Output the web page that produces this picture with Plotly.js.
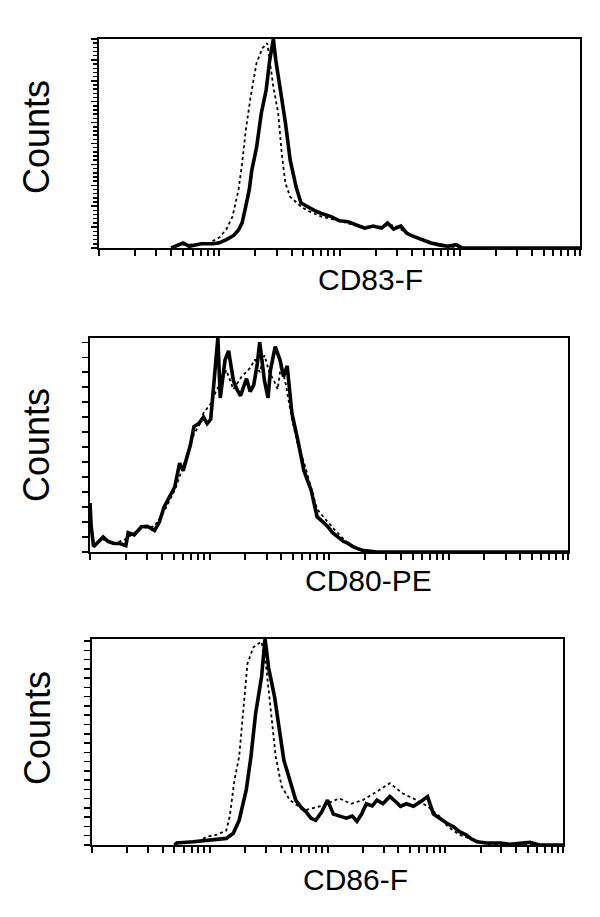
<!DOCTYPE html>
<html>
<head>
<meta charset="utf-8">
<script src="https://cdn.plot.ly/plotly-3.0.1.min.js"></script>
<style>html,body{margin:0;padding:0;background:#fff;}#chart{width:600px;height:917px;}</style>
</head>
<body>
<div id="chart"></div>
<script>
// ---- Data (log10 fluorescence position, counts as % of panel maximum) ----
const panelLabels = ["CD83-F", "CD80-PE", "CD86-F"];
const yLabel = "Counts";

// Panel 1: CD83-F
const cd83SolidLog = [0.60,0.70,0.75,0.85,0.95,1.00,1.06,1.12,1.16,1.19,1.22,1.25,1.27,1.31,1.35,1.39,1.42,1.45,1.47,1.51,1.55,1.59,1.64,1.68,1.73,1.79,1.85,1.93,2.00,2.07,2.14,2.21,2.28,2.35,2.40,2.45,2.51,2.56,2.62,2.69,2.76,2.83,2.90,2.97,3.02,3.20,4.00];
const cd83Solid    = [0,2.4,0.8,2,2,2.5,4,6,8.6,12,19.8,28,37,48,64.6,75.6,90,100,90,75.6,60,42,29,21.5,19.8,18,16.5,15,13,12.6,11,9.5,10.5,9.5,12,9,10.5,7,5.4,4,2.4,1.5,0.8,1.6,0,0,0];
const cd83DottedLog = [0.70,0.90,1.00,1.06,1.11,1.16,1.19,1.22,1.26,1.31,1.36,1.40,1.45,1.49,1.52,1.55,1.59,1.68,1.73,1.85,2.00,2.15,2.30,2.45,2.60,2.75,2.90,3.00];
const cd83Dotted    = [1.5,2,5,9,15,27.8,40.5,56,72,88.5,95.7,98,77,64.6,45,31,24.5,19.8,18,15,13,10.5,10,11,6,3,1,0];

// Panel 2: CD80-PE
const cd80SolidLog = [0.00,0.01,0.03,0.07,0.11,0.15,0.20,0.25,0.30,0.32,0.37,0.43,0.48,0.54,0.58,0.62,0.66,0.71,0.75,0.78,0.81,0.84,0.87,0.91,0.95,0.98,1.01,1.04,1.07,1.09,1.13,1.16,1.20,1.23,1.26,1.29,1.31,1.34,1.37,1.40,1.42,1.46,1.49,1.51,1.55,1.59,1.62,1.65,1.69,1.74,1.79,1.85,1.90,1.95,1.99,2.03,2.07,2.12,2.16,2.20,2.24,2.28,2.40,4.00];
const cd80Solid    = [22.9,12,2.5,5,7,5,4,4,3,9,8,11.8,12,10,14,21,25,30.5,41.5,38,44,50,58.6,60,63,60,62,80,100,72,89.7,94,80,76,73,78,81,75,78,88,98,80,72,85,96,89.7,82,87,64.8,52,38,29,16.5,14,11.8,9,7,5,4,2.5,1.6,0.8,0,0];
const cd80DottedLog = [0.00,0.03,0.10,0.20,0.30,0.37,0.43,0.54,0.62,0.71,0.78,0.83,0.87,0.92,0.95,1.02,1.06,1.09,1.14,1.20,1.27,1.34,1.38,1.42,1.46,1.50,1.54,1.57,1.60,1.64,1.69,1.74,1.79,1.85,1.90,1.99,2.07,2.16,2.24,2.30,4.00];
const cd80Dotted    = [15,3,6,4,6,9,11,12,19,29,40,48,55,60,65,70,76,78,85,76,82,86,90,84,92,84,80,76,88,78,62,50,42,30,20,14,9,4,1.5,0,0];

// Panel 3: CD86-F
const cd86SolidLog = [0.70,0.72,0.86,0.95,1.03,1.14,1.20,1.25,1.31,1.35,1.39,1.44,1.47,1.50,1.55,1.59,1.63,1.68,1.73,1.78,1.82,1.86,1.90,1.95,2.00,2.05,2.10,2.16,2.21,2.25,2.29,2.33,2.38,2.42,2.47,2.53,2.58,2.62,2.67,2.73,2.79,2.85,2.90,2.95,2.99,3.03,3.07,3.12,3.18,3.22,3.27,3.35,3.47,3.55,3.72,3.80,4.00];
const cd86Solid    = [0,1,1.6,2,2.4,3.2,5.7,12,26.7,43,64,81.7,100,86,72,55.8,41,31.6,21.8,18,16,13,12,16,21.8,15,14,13,14,11.5,15,20,19,21.8,20,23.5,21,18.8,20,18.8,21,23.5,15,13,11.5,10,8.9,6.5,4.9,3,1.6,1,1,0.3,1.3,0,0];
const cd86DottedLog = [0.90,0.97,1.06,1.14,1.17,1.21,1.25,1.28,1.32,1.37,1.44,1.48,1.52,1.56,1.61,1.68,1.75,1.82,1.95,2.10,2.20,2.30,2.42,2.53,2.64,2.75,2.85,2.95,3.02,3.12,3.24,3.35,4.00];
const cd86Dotted    = [1.5,4,5,7,14,31.6,43,64,88,96,98.7,86,64,43,28.5,21.8,19,17,19,22.6,20,21.8,26,30,25,22,18.8,14,9,5,2.4,0.5,0];

// X tick positions (log decades 10^0..10^4)
const xTickVals = [1,2,3,4,5,6,7,8,9,10,20,30,40,50,60,70,80,90,100,200,300,400,500,600,700,800,900,1000,2000,3000,4000,5000,6000,7000,8000,9000,10000];

// ---- Build figure ----
const toLin = arr => arr.map(v => Math.pow(10, v));
const series = [
  [cd83SolidLog, cd83Solid, cd83DottedLog, cd83Dotted],
  [cd80SolidLog, cd80Solid, cd80DottedLog, cd80Dotted],
  [cd86SolidLog, cd86Solid, cd86DottedLog, cd86Dotted]
];
const W = 600, H = 917;
// plot boxes in pixels: [left, right, top, bottom]
const boxes = [[99,580,39,248],[90,568,338,552],[92,563,639,845]];
const yDticks = [10, 7, 4.5];
const yMinor  = [2, null, null];

const traces = [];
const layout = {
  width: W, height: H,
  margin: {l:0, r:0, t:0, b:0},
  paper_bgcolor: '#fff', plot_bgcolor: '#fff',
  showlegend: false,
  font: {family: 'Liberation Sans, Arial, sans-serif', color: '#000'},
  annotations: []
};
const labelPos = [[370,279],[368,580],[355,879]];
const countsPos = [[37,137],[37,445],[37,728]];

series.forEach((s, i) => {
  const n = i === 0 ? '' : String(i + 1);
  const xa = 'x' + n, ya = 'y' + n;
  traces.push({x: toLin(s[2]), y: s[3], xaxis: xa, yaxis: ya, type: 'scatter', mode: 'lines',
    line: {color: '#000', width: 1.8, dash: 'dot'}, name: 'control', hoverinfo: 'skip'});
  traces.push({x: toLin(s[0]), y: s[1], xaxis: xa, yaxis: ya, type: 'scatter', mode: 'lines',
    line: {color: '#000', width: 3.6}, name: panelLabels[i]});
  const b = boxes[i];
  layout['xaxis' + n] = {
    type: 'log', range: [0, 4], domain: [b[0]/W, b[1]/W], anchor: ya,
    showline: true, mirror: true, linecolor: '#000', linewidth: 2,
    showgrid: false, zeroline: false,
    tickmode: 'array', tickvals: xTickVals, ticktext: xTickVals.map(() => ''),
    ticks: 'outside', ticklen: 6, tickwidth: 2, tickcolor: '#000', showticklabels: false
  };
  const yax = {
    range: [0, 100], domain: [1 - b[3]/H, 1 - b[2]/H], anchor: xa,
    showline: true, mirror: true, linecolor: '#000', linewidth: 2,
    showgrid: false, zeroline: false, showticklabels: false,
    tick0: 0, dtick: yDticks[i], ticks: 'outside', ticklen: 6, tickwidth: 1.5, tickcolor: '#000'
  };
  if (yMinor[i]) yax.minor = {dtick: yMinor[i], ticks: 'outside', ticklen: 4, tickwidth: 1.5, tickcolor: '#000', showgrid: false};
  layout['yaxis' + n] = yax;
  layout.annotations.push({text: panelLabels[i], xref: 'paper', yref: 'paper',
    x: labelPos[i][0]/W, y: 1 - labelPos[i][1]/H, xanchor: 'center', yanchor: 'middle',
    showarrow: false, font: {size: 30, color: '#000'}});
  layout.annotations.push({text: yLabel, xref: 'paper', yref: 'paper', textangle: -90,
    x: countsPos[i][0]/W, y: 1 - countsPos[i][1]/H, xanchor: 'center', yanchor: 'middle',
    showarrow: false, font: {size: 36, color: '#000'}});
});

Plotly.newPlot('chart', traces, layout, {displayModeBar: false, staticPlot: true});
</script>
</body>
</html>
